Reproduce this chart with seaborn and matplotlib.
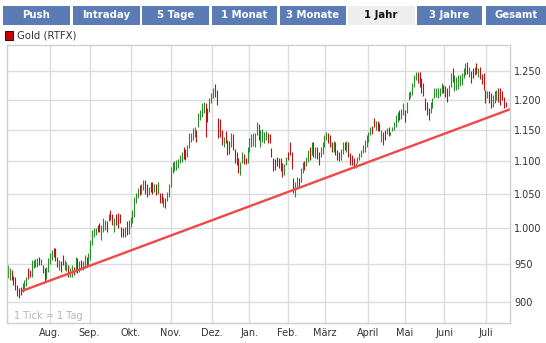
import numpy as np
import pandas as pd
import matplotlib
matplotlib.use("Agg")
import matplotlib.pyplot as plt
import seaborn as sns
from matplotlib.patches import Rectangle
from matplotlib.ticker import NullLocator

# Daily gold quotes (RTFX), one bar per trading day, Jul 2009 - Jul 2010
lows = [
    932, 929, 929, 923, 916, 908, 906, 909, 913, 916,
    921, 931, 933, 933, 945, 947, 947, 949, 949, 938,
    927, 931, 940, 951, 956, 960, 954, 947, 943, 940,
    949, 943, 941, 933, 933, 933, 936, 940, 938, 940,
    943, 943, 945, 947, 949, 956, 977,
    988, 990, 995, 994, 984, 995, 997, 995, 1010, 1012,
    1005, 995, 1005, 1000, 1008, 988, 988, 987, 990, 992,
    1002, 1008, 1016, 1037, 1044, 1048, 1050, 1056, 1050, 1046,
    1048, 1053, 1050, 1053, 1048, 1050, 1037, 1037, 1031, 1029,
    1040, 1046, 1061, 1082, 1085, 1087,
    1090, 1097, 1098, 1104, 1102, 1107, 1121, 1130, 1134, 1138,
    1130, 1155, 1166, 1171, 1178, 1138, 1163, 1180, 1195, 1203,
    1205, 1192, 1137, 1138, 1126, 1122, 1128, 1110, 1111, 1122,
    1118, 1097, 1094, 1082, 1079, 1097, 1096, 1095, 1097, 1115,
    1122, 1124, 1122, 1142, 1134, 1122, 1130,
    1128, 1134, 1128, 1128, 1107, 1084, 1086, 1092, 1089, 1084,
    1076, 1078, 1094, 1102, 1110, 1088, 1051, 1045, 1059, 1061,
    1068, 1082, 1086, 1092, 1098, 1102, 1110, 1107, 1105, 1103,
    1094, 1107, 1112, 1122, 1134, 1128, 1122, 1115, 1115, 1110,
    1102, 1100, 1102, 1112, 1117, 1115, 1107,
    1094, 1094, 1090, 1090, 1097, 1102, 1107, 1113, 1115, 1122,
    1130, 1142, 1143, 1155, 1150, 1148, 1148, 1130, 1126, 1134,
    1143, 1140, 1142, 1148, 1150, 1155, 1163, 1166, 1168, 1175,
    1163, 1178, 1200, 1204, 1209, 1223, 1234, 1229, 1223, 1212,
    1206, 1183, 1175, 1166, 1178, 1186,
    1203, 1205, 1203, 1207, 1212, 1212, 1205, 1197, 1207, 1222,
    1231, 1215, 1217, 1219, 1224, 1226, 1238, 1243, 1245, 1240,
    1229, 1238, 1244, 1245, 1240, 1237, 1228, 1217, 1195, 1203,
    1195, 1186, 1188, 1195, 1200, 1197, 1192, 1200, 1186, 1188,
]
highs = [
    949, 945, 943, 934, 933, 923, 919, 920, 925, 929,
    933, 945, 943, 956, 956, 957, 958, 960, 957, 949,
    945, 947, 958, 965, 970, 972, 972, 960, 956, 954,
    963, 956, 953, 949, 945, 949, 947, 960, 958, 954,
    956, 954, 963, 960, 965, 984, 998,
    1000, 1000, 1005, 1007, 1005, 1015, 1012, 1010, 1020, 1026,
    1020, 1015, 1020, 1022, 1020, 1002, 1000, 1002, 1010, 1012,
    1016, 1026, 1046, 1051, 1059, 1063, 1065, 1071, 1071, 1065,
    1061, 1068, 1068, 1065, 1065, 1068, 1051, 1051, 1046, 1044,
    1053, 1065, 1091, 1098, 1100, 1102,
    1103, 1110, 1115, 1122, 1120, 1126, 1145, 1145, 1153, 1155,
    1150, 1178, 1183, 1195, 1197, 1195, 1186, 1203, 1212, 1221,
    1228, 1217, 1170, 1168, 1150, 1138, 1148, 1134, 1132, 1145,
    1143, 1120, 1115, 1105, 1098, 1115, 1112, 1105, 1122, 1137,
    1143, 1145, 1145, 1163, 1160, 1150, 1152,
    1146, 1148, 1145, 1143, 1121, 1105, 1103, 1107, 1105, 1105,
    1097, 1095, 1107, 1114, 1130, 1114, 1074, 1068, 1076, 1074,
    1089, 1098, 1100, 1107, 1118, 1122, 1130, 1130, 1122, 1122,
    1114, 1122, 1130, 1142, 1146, 1145, 1142, 1130, 1132, 1130,
    1117, 1114, 1120, 1130, 1130, 1132, 1130,
    1113, 1110, 1105, 1097, 1107, 1113, 1118, 1126, 1134, 1142,
    1146, 1155, 1157, 1170, 1165, 1165, 1162, 1150, 1146, 1150,
    1153, 1155, 1147, 1155, 1163, 1175, 1180, 1183, 1185, 1195,
    1183, 1197, 1214, 1216, 1229, 1243, 1249, 1249, 1248, 1238,
    1229, 1203, 1197, 1186, 1197, 1203,
    1221, 1221, 1221, 1221, 1229, 1226, 1224, 1221, 1226, 1247,
    1256, 1243, 1240, 1243, 1243, 1247, 1256, 1265, 1267, 1258,
    1250, 1256, 1258, 1265, 1256, 1258, 1245, 1247, 1217, 1215,
    1215, 1212, 1209, 1215, 1217, 1221, 1221, 1215, 1205, 1197,
]
# u = closed higher (green), d = closed lower (red)
moves = (
    "uudddddduu udduuuudud duuuudddud duuduududu duuduuu "
    "uudduuudud dudddddudu uuuuuduudd uddududdud uuuuuu "
    "uuudduuuuu duuuudduuu dddddudddu dddduudduu uuuuduu "
    "uudddddddd duudddduud uuduududud duuuudddud dduudud "
    "ddduuuuuuu uudduddudd uduuuuuduu duuuuuuddd dddduu "
    "uuuuuddduu duuuuuuudu ddududdddu dduuuddddd"
).replace(" ", "")

month_labels = ["Aug.", "Sep.", "Okt.", "Nov.", "Dez.", "Jan.", "Feb.",
                "März", "April", "Mai", "Juni", "Juli"]
month_pos = [23.0, 44.6, 67.0, 89.1, 111.3, 132.0, 152.8,
             173.3, 196.8, 217.0, 238.6, 261.3]
price_ticks = [900, 950, 1000, 1050, 1100, 1150, 1200, 1250]
price_labels = ["900", "950", "1.000", "1.050", "1.100", "1.150", "1.200", "1.250"]
tabs = ["Push", "Intraday", "5 Tage", "1 Monat", "3 Monate", "1 Jahr", "3 Jahre", "Gesamt"]
active_tab = "1 Jahr"
trend_days = [8, 276]
trend_prices = [915, 1186]
series_name = "Gold (RTFX)"

sns.set_theme(style="white")
plt.rcParams["font.family"] = ["DejaVu Sans"]

W, H = 546, 343
fig = plt.figure(figsize=(W / 100, H / 100), dpi=100)
fig.patch.set_facecolor("white")


def box(x0, y0, x1, y1):
    """Pixel box (top-left origin) -> figure fraction rect."""
    return (x0 / W, 1 - y1 / H), (x1 - x0) / W, (y1 - y0) / H


# tab strip
tab_x0 = [3, 72.5, 142, 211.5, 280, 348, 417, 485.5]
tab_x1 = [70, 139.5, 208.5, 277, 345.5, 414.5, 482, 546]
for name, a, b in zip(tabs, tab_x0, tab_x1):
    on = name == active_tab
    xy, w, h = box(a, 5.5, b, 24.5)
    fig.add_artist(Rectangle(xy, w, h, transform=fig.transFigure,
                             facecolor="#eeeeee" if on else "#5b7bb4",
                             edgecolor="none"))
    fig.text((a + b) / 2 / W, 1 - 15 / H, name, ha="center", va="center",
             fontsize=7.3, fontweight="bold",
             color="#111111" if on else "white")

# series key
xy, w, h = box(5, 31.5, 13, 39.5)
fig.add_artist(Rectangle(xy, w, h, transform=fig.transFigure,
                         facecolor="#c80000", edgecolor="#3a0000", lw=0.7))
fig.text(17 / W, 1 - 35.5 / H, series_name, ha="left", va="center",
         fontsize=7.3, color="#333333")

ax = fig.add_axes([7 / W, 20 / H, 503 / W, 278 / H])
ax.set_yscale("log")

df = pd.DataFrame({"day": np.arange(len(lows)), "low": lows,
                   "high": highs, "move": list(moves)})
bar_colors = {"u": "#2c8c2c", "d": "#b41414"}
for m, sub in df.groupby("move"):
    ax.vlines(sub["day"], sub["low"], sub["high"], colors=bar_colors[m], lw=0.8)

trend = pd.DataFrame({"day": trend_days, "price": trend_prices})
sns.lineplot(data=trend, x="day", y="price", ax=ax, color="#f04848",
             lw=1.7, legend=False)

ax.set_xlim(-0.5, 274.4)
ax.set_ylim(874, 1297.5)
ax.set_xlabel("")
ax.set_ylabel("")

ax.set_xticks(month_pos)
ax.set_xticklabels(month_labels)
ax.yaxis.tick_right()
ax.set_yticks(price_ticks)
ax.set_yticklabels(price_labels)
ax.yaxis.set_minor_locator(NullLocator())
ax.tick_params(axis="x", length=0, pad=3.5, labelsize=7, colors="#333333")
ax.tick_params(axis="y", length=0, pad=3, labelsize=7, colors="#333333")
ax.grid(True, color="#dcdcdc", lw=1.0)
ax.set_axisbelow(True)
for s in ax.spines.values():
    s.set_visible(True)
    s.set_color("#cfcfcf")
    s.set_linewidth(1.0)

ax.text(7 / 503, 7 / 278, "1 Tick = 1 Tag", transform=ax.transAxes,
        ha="left", va="center", fontsize=7, color="#b4b4b4")

fig.savefig("out.png", dpi=100)
